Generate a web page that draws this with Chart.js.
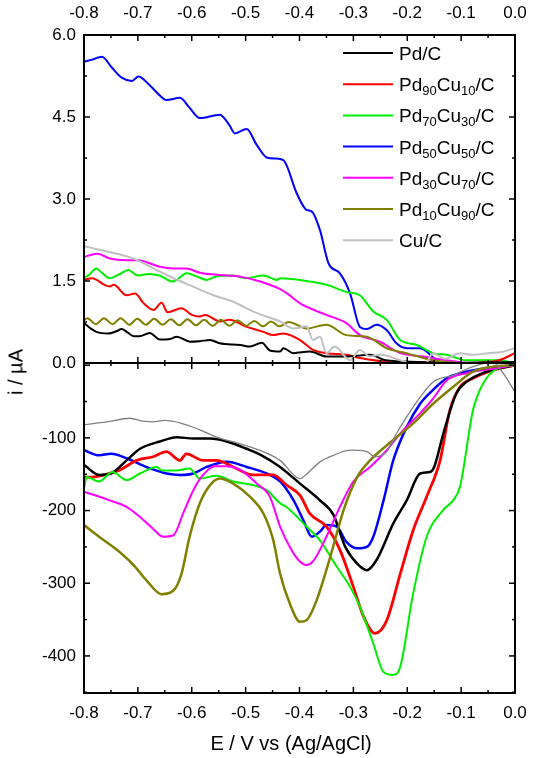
<!DOCTYPE html>
<html>
<head>
<meta charset="utf-8">
<script src="https://cdn.jsdelivr.net/npm/chart.js@4.4.1/dist/chart.umd.min.js"></script>
<style>
  body { margin: 0; background: #fff; }
  #wrap { position: relative; width: 533px; height: 758px; font-family: "Liberation Sans", Arial, sans-serif; }
  canvas { position: absolute; left: 0; }
  #top { top: 0; }
  #bot { top: 361px; }
  .lab { position: absolute; color: #000; font-size: 20px; white-space: nowrap; }
  #ylab { left: 16px; top: 372px; transform: translate(-50%, -50%) rotate(-90deg); }
  #xlab { left: 291px; top: 743px; transform: translate(-50%, -50%); }
</style>
</head>
<body>
<div id="wrap">
  <canvas id="top" width="533" height="376"></canvas>
  <canvas id="bot" width="533" height="397"></canvas>
  <div class="lab" id="ylab">i / µA</div>
  <div class="lab" id="xlab">E / V vs (Ag/AgCl)</div>
</div>
<script>
// series names and colours (legend order)
const seriesNames = ['Pd/C', 'Pd_{90}Cu_{10}/C', 'Pd_{70}Cu_{30}/C', 'Pd_{50}Cu_{50}/C', 'Pd_{30}Cu_{70}/C', 'Pd_{10}Cu_{90}/C', 'Cu/C'];
const seriesColors = ['#000000', '#ff0000', '#00ee00', '#0000ff', '#ff00ff', '#808000', '#c0c0c0'];

// upper panel, [E (V), i (uA)]
const pdTop = [[-0.800,0.73],[-0.790,0.65],[-0.777,0.57],[-0.755,0.54],[-0.740,0.58],[-0.730,0.62],[-0.718,0.55],[-0.708,0.49],[-0.697,0.49],[-0.678,0.55],[-0.659,0.43],[-0.640,0.44],[-0.628,0.48],[-0.603,0.39],[-0.585,0.40],[-0.566,0.42],[-0.548,0.36],[-0.510,0.33],[-0.492,0.30],[-0.470,0.37],[-0.455,0.23],[-0.436,0.21],[-0.430,0.27],[-0.411,0.18],[-0.381,0.21],[-0.350,0.12],[-0.310,0.12],[-0.269,0.15],[-0.240,0.05],[-0.180,0.02],[-0.120,0.00],[0.000,0.02]];
const pd90Top = [[-0.800,1.52],[-0.785,1.55],[-0.760,1.42],[-0.752,1.40],[-0.745,1.43],[-0.721,1.24],[-0.705,1.27],[-0.690,1.10],[-0.671,0.97],[-0.656,1.10],[-0.645,0.93],[-0.619,1.00],[-0.600,0.88],[-0.585,0.85],[-0.575,0.88],[-0.548,0.76],[-0.530,0.79],[-0.498,0.66],[-0.467,0.57],[-0.449,0.51],[-0.430,0.54],[-0.399,0.42],[-0.375,0.24],[-0.350,0.18],[-0.313,0.15],[-0.288,0.09],[-0.226,0.02],[-0.150,0.02],[-0.090,0.00],[-0.030,0.05],[0.000,0.18]];
const pd70Top = [[-0.800,1.55],[-0.790,1.62],[-0.777,1.73],[-0.768,1.66],[-0.752,1.55],[-0.735,1.62],[-0.718,1.70],[-0.700,1.60],[-0.680,1.63],[-0.660,1.60],[-0.635,1.49],[-0.609,1.64],[-0.590,1.58],[-0.572,1.52],[-0.555,1.58],[-0.523,1.60],[-0.500,1.55],[-0.467,1.60],[-0.442,1.52],[-0.436,1.55],[-0.399,1.52],[-0.350,1.43],[-0.313,1.30],[-0.288,1.24],[-0.263,0.94],[-0.238,0.79],[-0.213,0.42],[-0.182,0.33],[-0.152,0.18],[-0.127,0.15],[-0.090,0.05],[-0.030,0.05],[0.000,0.00]];
const pd50Top = [[-0.800,5.51],[-0.785,5.55],[-0.767,5.60],[-0.748,5.40],[-0.730,5.22],[-0.711,5.16],[-0.699,5.24],[-0.680,5.10],[-0.660,4.90],[-0.647,4.81],[-0.622,4.85],[-0.605,4.68],[-0.585,4.48],[-0.548,4.54],[-0.530,4.35],[-0.520,4.20],[-0.498,4.28],[-0.480,4.00],[-0.461,3.76],[-0.445,3.74],[-0.430,3.71],[-0.405,3.10],[-0.387,2.80],[-0.377,2.77],[-0.362,2.43],[-0.346,1.82],[-0.325,1.64],[-0.306,1.27],[-0.288,0.66],[-0.275,0.62],[-0.257,0.70],[-0.238,0.60],[-0.220,0.36],[-0.201,0.27],[-0.176,0.27],[-0.145,0.05],[-0.110,-0.07],[-0.060,-0.03],[0.000,0.00]];
const pd30Top = [[-0.800,1.94],[-0.775,2.00],[-0.752,1.91],[-0.721,1.88],[-0.700,1.88],[-0.659,1.76],[-0.635,1.73],[-0.610,1.73],[-0.585,1.65],[-0.548,1.61],[-0.510,1.58],[-0.473,1.49],[-0.436,1.35],[-0.420,1.25],[-0.399,1.09],[-0.350,0.88],[-0.313,0.73],[-0.288,0.51],[-0.251,0.39],[-0.213,0.18],[-0.170,0.12],[-0.127,0.05],[-0.060,-0.03],[0.000,-0.05]];
const pd10Top = [[-0.800,0.78],[-0.794,0.82],[-0.778,0.71],[-0.763,0.82],[-0.747,0.71],[-0.732,0.82],[-0.716,0.70],[-0.701,0.81],[-0.685,0.70],[-0.670,0.81],[-0.654,0.70],[-0.639,0.80],[-0.623,0.69],[-0.608,0.80],[-0.592,0.69],[-0.577,0.79],[-0.561,0.68],[-0.546,0.79],[-0.530,0.68],[-0.515,0.78],[-0.499,0.68],[-0.484,0.77],[-0.468,0.67],[-0.453,0.76],[-0.437,0.67],[-0.420,0.75],[-0.405,0.70],[-0.387,0.63],[-0.350,0.70],[-0.313,0.51],[-0.275,0.48],[-0.238,0.27],[-0.201,0.18],[-0.152,0.05],[-0.100,0.00],[-0.050,-0.03],[0.000,-0.02]];
const cuTop = [[-0.800,2.14],[-0.776,2.08],[-0.739,2.00],[-0.708,1.91],[-0.671,1.73],[-0.634,1.55],[-0.591,1.37],[-0.575,1.30],[-0.560,1.24],[-0.523,1.12],[-0.486,0.94],[-0.470,0.88],[-0.436,0.76],[-0.411,0.63],[-0.387,0.67],[-0.375,0.42],[-0.362,0.48],[-0.350,0.18],[-0.335,0.30],[-0.306,0.05],[-0.288,0.24],[-0.270,0.12],[-0.250,0.15],[-0.213,0.05],[-0.170,-0.07],[-0.152,0.18],[-0.130,0.08],[-0.102,0.18],[-0.080,0.15],[-0.050,0.18],[-0.025,0.20],[0.000,0.27]];

// lower panel, [E (V), i (uA)]
const pdBot = [[-0.800,-137],[-0.772,-151],[-0.750,-149],[-0.721,-131],[-0.696,-115],[-0.659,-105],[-0.628,-99],[-0.597,-101],[-0.566,-101],[-0.535,-105],[-0.498,-115],[-0.473,-123],[-0.436,-140],[-0.399,-163],[-0.362,-186],[-0.337,-206],[-0.315,-250],[-0.293,-273],[-0.275,-282],[-0.257,-268],[-0.226,-218],[-0.201,-186],[-0.176,-149],[-0.158,-147],[-0.150,-140],[-0.133,-94],[-0.109,-39],[-0.090,-23],[-0.053,-9],[0.000,0]];
const pd90Bot = [[-0.800,-154],[-0.785,-154],[-0.763,-151],[-0.733,-144],[-0.702,-131],[-0.672,-126],[-0.647,-119],[-0.622,-131],[-0.610,-122],[-0.579,-131],[-0.554,-131],[-0.523,-140],[-0.486,-151],[-0.449,-151],[-0.424,-165],[-0.399,-179],[-0.381,-204],[-0.350,-222],[-0.325,-254],[-0.300,-305],[-0.281,-346],[-0.260,-369],[-0.238,-351],[-0.213,-287],[-0.189,-227],[-0.164,-181],[-0.139,-131],[-0.121,-62],[-0.102,-30],[-0.078,-18],[-0.041,-7],[0.000,0]];
const pd70Bot = [[-0.800,-170],[-0.795,-154],[-0.772,-160],[-0.747,-147],[-0.721,-158],[-0.696,-149],[-0.665,-140],[-0.655,-145],[-0.630,-145],[-0.604,-142],[-0.585,-156],[-0.554,-152],[-0.523,-160],[-0.486,-165],[-0.461,-172],[-0.436,-190],[-0.424,-195],[-0.387,-222],[-0.362,-241],[-0.331,-277],[-0.306,-305],[-0.288,-332],[-0.263,-383],[-0.244,-422],[-0.226,-426],[-0.213,-415],[-0.189,-314],[-0.164,-236],[-0.133,-199],[-0.115,-186],[-0.102,-167],[-0.078,-62],[-0.059,-25],[-0.034,-5],[0.000,0]];
const pd50Bot = [[-0.800,-117],[-0.772,-124],[-0.750,-122],[-0.721,-128],[-0.685,-140],[-0.647,-149],[-0.622,-151],[-0.597,-149],[-0.572,-140],[-0.535,-133],[-0.498,-140],[-0.461,-149],[-0.436,-160],[-0.411,-186],[-0.393,-213],[-0.377,-236],[-0.362,-229],[-0.350,-220],[-0.331,-222],[-0.313,-243],[-0.293,-252],[-0.275,-250],[-0.263,-236],[-0.244,-186],[-0.226,-131],[-0.201,-85],[-0.176,-53],[-0.152,-34],[-0.127,-18],[-0.102,-11],[-0.053,-4],[0.000,0]];
const pd30Bot = [[-0.800,-174],[-0.752,-186],[-0.721,-195],[-0.696,-209],[-0.672,-225],[-0.653,-236],[-0.634,-234],[-0.616,-204],[-0.597,-172],[-0.579,-151],[-0.557,-139],[-0.535,-139],[-0.510,-144],[-0.479,-163],[-0.455,-181],[-0.436,-222],[-0.418,-250],[-0.402,-268],[-0.387,-275],[-0.375,-270],[-0.350,-236],[-0.325,-195],[-0.300,-160],[-0.269,-140],[-0.238,-117],[-0.213,-94],[-0.176,-66],[-0.152,-46],[-0.127,-21],[-0.090,-11],[-0.041,-5],[0.000,0]];
const pd10Bot = [[-0.800,-220],[-0.772,-236],[-0.739,-254],[-0.708,-275],[-0.684,-296],[-0.656,-315],[-0.634,-310],[-0.619,-287],[-0.604,-236],[-0.585,-190],[-0.566,-165],[-0.548,-156],[-0.523,-163],[-0.492,-181],[-0.467,-204],[-0.449,-240],[-0.436,-287],[-0.418,-328],[-0.399,-353],[-0.387,-351],[-0.368,-323],[-0.343,-264],[-0.318,-199],[-0.293,-154],[-0.269,-131],[-0.226,-103],[-0.189,-80],[-0.152,-53],[-0.115,-30],[-0.078,-9],[-0.041,-2],[0.000,0]];
const cuBot = [[-0.800,-82],[-0.758,-78],[-0.715,-73],[-0.690,-77],[-0.672,-78],[-0.650,-76],[-0.619,-80],[-0.585,-89],[-0.554,-99],[-0.511,-108],[-0.461,-121],[-0.436,-131],[-0.399,-156],[-0.390,-152],[-0.362,-133],[-0.337,-124],[-0.306,-117],[-0.275,-119],[-0.260,-126],[-0.238,-119],[-0.220,-94],[-0.201,-71],[-0.176,-44],[-0.152,-23],[-0.115,-14],[-0.078,-2],[-0.041,4],[-0.022,-11],[0.000,-37]];

const xTicks = { min: -0.8, max: 0.0, step: 0.1 };

Chart.defaults.font.family = '"Liberation Sans", Arial, sans-serif';
Chart.defaults.font.size = 17;
Chart.defaults.color = '#000';

// box + inward ticks on all four sides
const framePlugin = {
  id: 'frame',
  afterDatasetsDraw(chart, args, o) {
    const { ctx, chartArea: a } = chart;
    const xs = chart.scales.x, ys = chart.scales.y;
    ctx.save();
    ctx.strokeStyle = '#000';
    ctx.lineWidth = 1.5;
    const tick = (x1, y1, x2, y2) => { ctx.beginPath(); ctx.moveTo(x1, y1); ctx.lineTo(x2, y2); ctx.stroke(); };
    for (let k = 0; k <= 16; k++) {
      const px = xs.getPixelForValue(xTicks.min + k * 0.05);
      const len = k % 2 === 0 ? 6 : 3;
      tick(px, a.top, px, a.top + len);
      tick(px, a.bottom, px, a.bottom - len);
    }
    for (let k = 0; k <= o.count; k++) {
      const py = ys.getPixelForValue(o.from + k * o.minor);
      const len = (k + o.phase) % 2 === 0 ? 6 : 3;
      tick(a.left, py, a.left + len, py);
      tick(a.right, py, a.right - len, py);
    }
    ctx.lineWidth = 2;
    ctx.strokeRect(a.left, a.top, a.right - a.left, a.bottom - a.top);
    ctx.restore();
  }
};

// legend with subscripts, drawn inside the upper panel
const legendPlugin = {
  id: 'subLegend',
  afterDraw(chart) {
    const { ctx } = chart;
    ctx.save();
    ctx.textBaseline = 'alphabetic';
    seriesNames.forEach((name, i) => {
      const y = 53 + i * 31.2;
      ctx.strokeStyle = seriesColors[i];
      ctx.lineWidth = 2;
      ctx.beginPath(); ctx.moveTo(343, y); ctx.lineTo(393, y); ctx.stroke();
      let x = 399;
      name.split(/(_\{\d+\})/).forEach(part => {
        if (!part) return;
        const sub = part.startsWith('_{');
        const txt = sub ? part.slice(2, -1) : part;
        ctx.font = (sub ? '13px' : '19px') + ' "Liberation Sans", Arial, sans-serif';
        ctx.fillStyle = '#000';
        ctx.fillText(txt, x, y + (sub ? 11 : 7));
        x += ctx.measureText(txt).width;
      });
    });
    ctx.restore();
  }
};

const xLabel = (v) => Math.abs(v) < 1e-9 ? '0.0' : v.toFixed(1);
const noPad = (s) => { s.paddingTop = 0; s.paddingBottom = 0; s.paddingLeft = 0; s.paddingRight = 0; };

function lineSet(data, color, width) {
  return { data, borderColor: color, borderWidth: width, pointRadius: 0, fill: false, cubicInterpolationMode: 'monotone' };
}

new Chart(document.getElementById('top'), {
  type: 'line',
  data: {
    datasets: [
      lineSet(cuTop, '#c0c0c0', 2),
      lineSet(pd10Top, '#808000', 2),
      lineSet(pd30Top, '#ff00ff', 2),
      lineSet(pdTop, '#000000', 2),
      lineSet(pd90Top, '#ff0000', 2),
      lineSet(pd70Top, '#00ee00', 2),
      lineSet(pd50Top, '#0000ff', 2)
    ]
  },
  options: {
    responsive: false,
    animation: false,
    layout: { padding: { right: 18, bottom: 13, top: 0, left: 0 } },
    plugins: { legend: { display: false }, tooltip: { enabled: false }, frame: { from: 0, minor: 0.75, count: 8, phase: 0 } },
    scales: {
      x: {
        type: 'linear', position: 'top', min: xTicks.min, max: xTicks.max,
        ticks: { stepSize: xTicks.step, callback: xLabel, padding: 11, maxRotation: 0 },
        grid: { display: false, drawTicks: false }, border: { display: false },
        afterFit: (s) => { s.height = 35; noPad(s); }
      },
      y: {
        min: 0, max: 6,
        ticks: { stepSize: 1.5, callback: (v) => v.toFixed(1), padding: 8 },
        grid: { display: false, drawTicks: false }, border: { display: false },
        afterFit: (s) => { s.width = 84; noPad(s); }
      }
    }
  },
  plugins: [framePlugin, legendPlugin]
});

new Chart(document.getElementById('bot'), {
  type: 'line',
  data: {
    datasets: [
      lineSet(cuBot, '#808080', 1.3),
      lineSet(pd10Bot, '#808000', 2.5),
      lineSet(pd30Bot, '#ff00ff', 2),
      lineSet(pd70Bot, '#00ee00', 2),
      lineSet(pdBot, '#000000', 2.5),
      lineSet(pd90Bot, '#ff0000', 2.8),
      lineSet(pd50Bot, '#0000ff', 2.5)
    ]
  },
  options: {
    responsive: false,
    animation: false,
    layout: { padding: { right: 18, top: 2, bottom: 0, left: 0 } },
    plugins: { legend: { display: false }, tooltip: { enabled: false }, frame: { from: -450, minor: 50, count: 9, phase: 1 } },
    scales: {
      x: {
        type: 'linear', position: 'bottom', min: xTicks.min, max: xTicks.max,
        ticks: { stepSize: xTicks.step, callback: xLabel, padding: 10, maxRotation: 0 },
        grid: { display: false, drawTicks: false }, border: { display: false },
        afterFit: (s) => { s.height = 65; noPad(s); }
      },
      y: {
        min: -451, max: 3,
        ticks: { stepSize: 100, includeBounds: false, callback: (v) => v === 0 ? '' : String(v), padding: 8 },
        grid: { display: false, drawTicks: false }, border: { display: false },
        afterFit: (s) => { s.width = 84; noPad(s); }
      }
    }
  },
  plugins: [framePlugin]
});
</script>
</body>
</html>
